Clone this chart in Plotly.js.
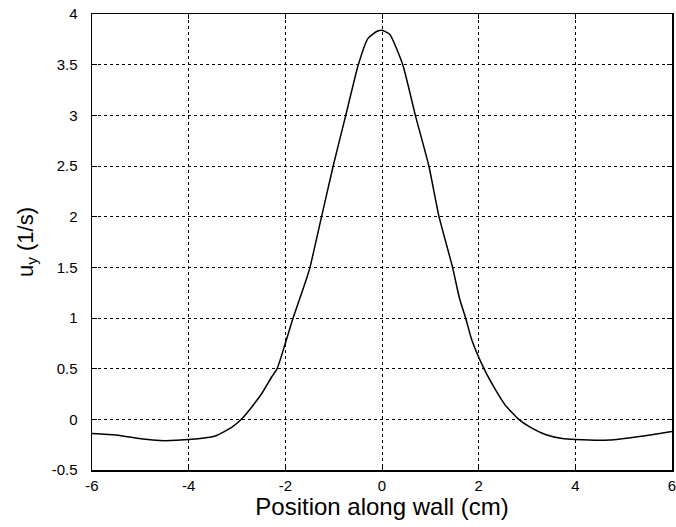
<!DOCTYPE html>
<html>
<head>
<meta charset="utf-8">
<script src="https://cdn.plot.ly/plotly-3.0.1.min.js"></script>
<style>html,body{margin:0;padding:0;background:#fff;}#chart{width:676px;height:527px;}</style>
</head>
<body>
<div id="chart"></div>
<script>
var positionCm = [-6, -5.5, -4.95, -4.6, -4, -3.45, -3.11, -2.91, -2.69, -2.48, -2.28, -2.17, -2, -1.84, -1.57, -1.49, -1.25, -1.01, -0.75, -0.49, -0.29, -0.1, 0, 0.16, 0.43, 0.69, 0.97, 1.18, 1.46, 1.6, 1.73, 1.86, 2.11, 2.35, 2.55, 2.83, 3.04, 3.38, 3.73, 4, 4.7, 5.33, 6];
var uy =         [-0.14, -0.155, -0.195, -0.21, -0.2, -0.165, -0.08, 0, 0.125, 0.26, 0.42, 0.5, 0.75, 1.0, 1.375, 1.5, 2.0, 2.5, 3.0, 3.5, 3.76, 3.83, 3.84, 3.8, 3.5, 3.0, 2.5, 2.0, 1.5, 1.2, 1.0, 0.78, 0.5, 0.29, 0.14, 0, -0.07, -0.15, -0.19, -0.2, -0.205, -0.17, -0.12];
var xTicks = [-6, -4, -2, 0, 2, 4, 6];
var yTicks = [-0.5, 0, 0.5, 1, 1.5, 2, 2.5, 3, 3.5, 4];
var yTickText = ['-0.5', '0', '0.5', '1', '1.5', '2', '2.5', '3', '3.5', '4'];

var trace = {
  x: positionCm, y: uy, mode: 'lines', type: 'scatter',
  line: {color: '#000', width: 1.5, shape: 'spline', smoothing: 0.5}, hoverinfo: 'none'
};
var axisCommon = {
  showline: true, linecolor: '#000', linewidth: 1.5, mirror: 'ticks',
  ticks: 'inside', ticklen: 5, tickcolor: '#000', tickwidth: 1,
  showgrid: true, gridcolor: '#000', gridwidth: 1, griddash: '3px,3px',
  zeroline: false, ticklabeloverflow: 'allow',
  tickfont: {family: 'Liberation Sans, Arial, sans-serif', size: 15, color: '#000'}
};
var layout = {
  width: 676, height: 527,
  margin: {l: 92, r: 4, t: 14, b: 57},
  paper_bgcolor: '#fff', plot_bgcolor: '#fff',
  showlegend: false,
  xaxis: Object.assign({}, axisCommon, {
    range: [-6, 6], tickvals: xTicks, ticktext: xTicks.map(String),
    ticklabelstandoff: 1,
    title: {text: 'Position along wall (cm)', standoff: 5,
      font: {family: 'Liberation Sans, Arial, sans-serif', size: 24, color: '#000'}}
  }),
  yaxis: Object.assign({}, axisCommon, {
    range: [-0.5, 4], tickvals: yTicks, ticktext: yTickText,
    ticklabelstandoff: 10,
    title: {text: 'u<sub>y</sub> (1/s)', standoff: 12,
      font: {family: 'Liberation Sans, Arial, sans-serif', size: 22, color: '#000'}}
  })
};
Plotly.newPlot('chart', [trace], layout, {displayModeBar: false, staticPlot: true});
</script>
</body>
</html>
